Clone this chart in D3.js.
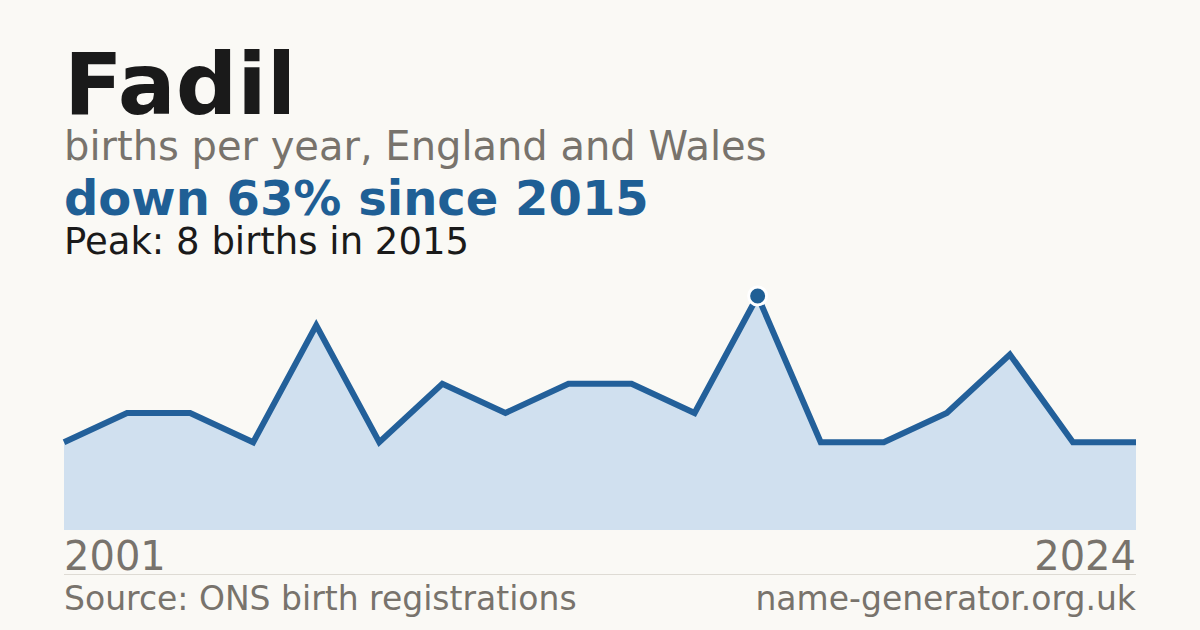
<!DOCTYPE html>
<html>
<head>
<meta charset="utf-8">
<script src="https://cdn.jsdelivr.net/npm/d3@7"></script>
<style>
  body { margin: 0; background: #faf9f5; }
  svg { display: block; font-family: "DejaVu Sans", sans-serif; }
</style>
</head>
<body>
<script>
(function(){

    //chart data (years with registered births; gaps are suppressed years)
    var years  = [2001, 2002, 2003, 2004, 2005, 2006, 2008, 2009, 2011, 2012, 2014, 2015, 2016, 2017, 2019, 2020, 2022, 2024];
    var births = [3, 4, 4, 3, 7, 3, 5, 4, 5, 5, 4, 8, 3, 3, 4, 6, 3, 3];
    var peakYear = 2015, peakValue = 8;
    var firstLabel = "2001", lastLabel = "2024";

    var width = 1200, height = 630;

    var svg = d3.select("body")
        .append("svg")
        .attr("width", width)
        .attr("height", height);

    svg.append("rect")
        .attr("width", width)
        .attr("height", height)
        .attr("fill", "#faf9f5");

    //headline texts
    svg.append("text")
        .attr("x", 64).attr("y", 114)
        .attr("font-size", 86).attr("font-weight", "bold")
        .attr("fill", "#1a1a1a")
        .text("Fadil");

    svg.append("text")
        .attr("x", 64).attr("y", 160)
        .attr("font-size", 40)
        .attr("fill", "#78736c")
        .text("births per year, England and Wales");

    svg.append("text")
        .attr("x", 64).attr("y", 215)
        .attr("font-size", 48).attr("font-weight", "bold")
        .attr("fill", "#1f5f95")
        .text("down 63% since 2015");

    svg.append("text")
        .attr("x", 64).attr("y", 254)
        .attr("font-size", 37)
        .attr("fill", "#1a1a1a")
        .text("Peak: " + peakValue + " births in " + peakYear);

    //scales
    var x = d3.scalePoint()
        .domain(years)
        .range([64, 1136]);

    var y = d3.scaleLinear()
        .domain([0, peakValue])
        .range([530, 296]);

    var data = years.map(function(yr, i){ return {year: yr, value: births[i]}; });

    var area = d3.area()
        .x(function(d){ return x(d.year); })
        .y0(y(0))
        .y1(function(d){ return y(d.value); });

    var line = d3.line()
        .x(function(d){ return x(d.year); })
        .y(function(d){ return y(d.value); });

    svg.append("path")
        .datum(data)
        .attr("d", area)
        .attr("fill", "#d0e0ef");

    svg.append("path")
        .datum(data)
        .attr("d", line)
        .attr("fill", "none")
        .attr("stroke", "#23609a")
        .attr("stroke-width", 6);

    //peak marker
    svg.append("circle")
        .attr("cx", x(peakYear))
        .attr("cy", y(peakValue))
        .attr("r", 9)
        .attr("fill", "#1f5f95")
        .attr("stroke", "#ffffff")
        .attr("stroke-width", 3);

    //first / last year labels
    svg.append("text")
        .attr("x", 64).attr("y", 570)
        .attr("font-size", 40)
        .attr("fill", "#78736c")
        .text(firstLabel);

    svg.append("text")
        .attr("x", 1136).attr("y", 570)
        .attr("text-anchor", "end")
        .attr("font-size", 40)
        .attr("fill", "#78736c")
        .text(lastLabel);

    //divider and footer
    svg.append("line")
        .attr("x1", 64).attr("x2", 1136)
        .attr("y1", 574.5).attr("y2", 574.5)
        .attr("stroke", "#dedbd4")
        .attr("stroke-width", 1);

    svg.append("text")
        .attr("x", 64).attr("y", 610)
        .attr("font-size", 33)
        .attr("fill", "#78736c")
        .text("Source: ONS birth registrations");

    svg.append("text")
        .attr("x", 1136).attr("y", 610)
        .attr("text-anchor", "end")
        .attr("font-size", 33)
        .attr("fill", "#78736c")
        .text("name-generator.org.uk");

})();
</script>
</body>
</html>
